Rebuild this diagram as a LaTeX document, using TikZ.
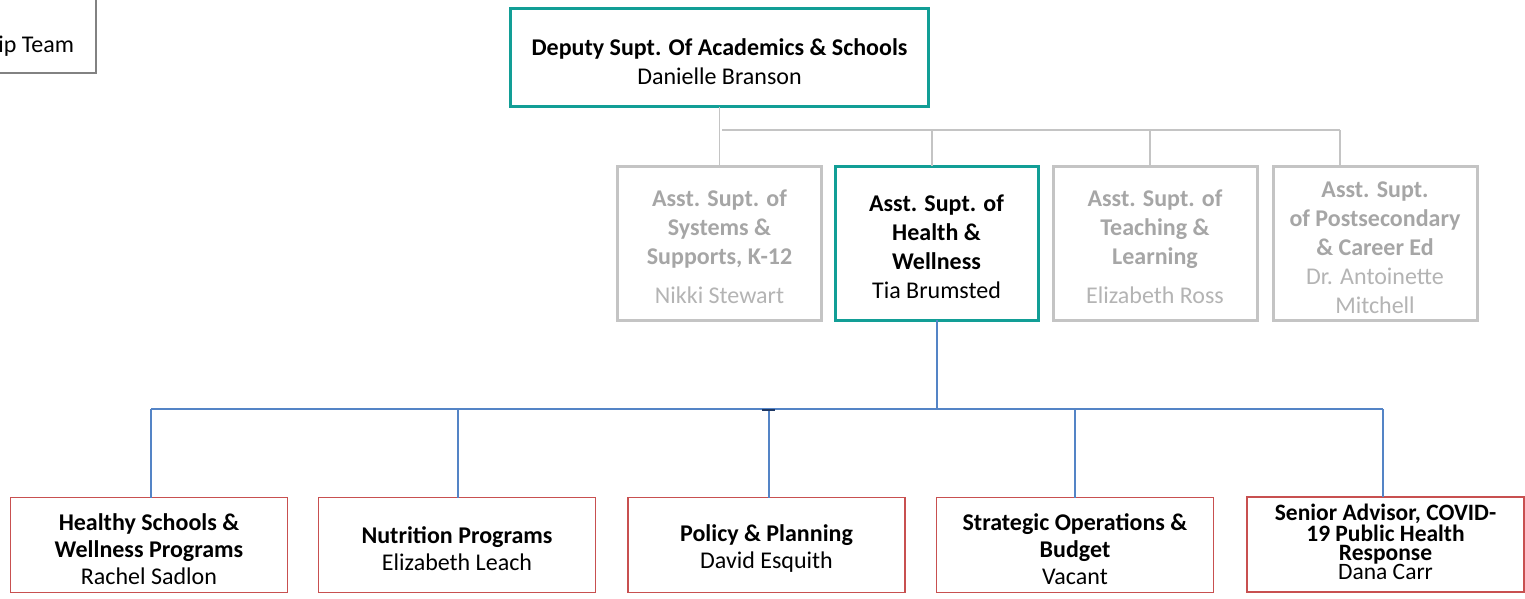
\documentclass[tikz,border=0pt]{standalone}
\usepackage{fontspec}
\setmainfont{Carlito}
\definecolor{tealb}{RGB}{18,158,150}
\definecolor{grayb}{RGB}{196,196,196}
\definecolor{grayt}{RGB}{166,166,166}
\definecolor{grayn}{RGB}{180,180,180}
\definecolor{redb}{RGB}{200,80,80}
\definecolor{blueln}{RGB}{84,132,198}
\definecolor{navy}{RGB}{31,56,100}
\definecolor{darkg}{RGB}{130,130,130}
\newcommand\tstr{\rule{0pt}{24.5pt}}
\newcommand\bstr{\rule[-6pt]{0pt}{6pt}}
\begin{document}
\begin{tikzpicture}[x=1pt,y=-1pt,
  every node/.style={inner sep=0pt, outer sep=0pt, align=center, font=\fontsize{24}{29}\selectfont},
  topbox/.style={draw=tealb, line width=3pt, minimum width=418pt, minimum height=98pt},
  tealbox/.style={draw=tealb, line width=3pt, minimum width=203pt, minimum height=154pt},
  graybox/.style={draw=grayb, line width=3pt, minimum width=204pt, minimum height=154pt, text=grayt},
  redbox/.style={draw=redb, line width=1.3pt, minimum width=277pt, minimum height=95pt, font=\fontsize{24}{27}\selectfont},
  tightbox/.style={redbox, font=\fontsize{23.5}{19}\selectfont},
  grayline/.style={draw=grayb, line width=1.2pt},
  blueline/.style={draw=blueln, line width=1.1pt}
]
\useasboundingbox (0,0) rectangle (1525,598);
\clip (0,0) rectangle (1525,598);
\fill[white] (0,0) rectangle (1525,598);

% top-left partial box
\node[draw=darkg, line width=1.5pt, minimum width=260pt, minimum height=100pt] (lead) at (-34,23) {};
\node[anchor=base east] (leadt) at (74,52) {Leadership Team};

% deputy
\node[topbox] (dep) at (719.5,57.5) {\tstr\textbf{Deputy Supt. Of Academics \& Schools}\\Danielle Branson};

% second row
\node[graybox] (sys) at (719.5,243) {\tstr\textbf{Asst. Supt. of}\\\textbf{Systems \&}\\\textbf{Supports, K-12}\\[10pt]{\color{grayn}Nikki Stewart}};
\node[tealbox] (hw) at (936.5,243) {\tstr\textbf{Asst. Supt. of}\\\textbf{Health \&}\\\textbf{Wellness}\\Tia Brumsted};
\node[graybox] (tl) at (1155,243) {\tstr\textbf{Asst. Supt. of}\\\textbf{Teaching \&}\\\textbf{Learning}\\[10pt]{\color{grayn}Elizabeth Ross}};
\node[graybox] (pce) at (1375,243) {\tstr\textbf{Asst. Supt.}\\\textbf{of Postsecondary}\\\textbf{\& Career Ed}\\{\color{grayn}Dr. Antoinette}\\{\color{grayn}Mitchell}};

% gray connectors
\coordinate (gl) at (722,130);
\coordinate (gr) at (1340,130);
\draw[grayline] (dep.south -| sys.north) -- (sys.north);
\draw[grayline] (gl) -- (gr);
\draw[grayline] (gl -| 932,0) -- (hw.north -| 932,0);
\draw[grayline] (gl -| 1150,0) -- (tl.north -| 1150,0);
\draw[grayline] (gr) -- (pce.north -| gr);

% bottom row
\node[redbox] (hs) at (149,545) {\tstr\textbf{Healthy Schools \&}\\\textbf{Wellness Programs}\\Rachel Sadlon};
\node[redbox] (np) at (457,545) {\tstr\textbf{Nutrition Programs}\\Elizabeth Leach};
\node[redbox] (pp) at (766.5,545) {\tstr\textbf{Policy \& Planning}\\David Esquith};
\node[redbox] (so) at (1075,545) {\tstr\textbf{Strategic Operations \&}\\\textbf{Budget}\\Vacant};
\node[tightbox] (sa) at (1385.5,544.5) {\textbf{Senior Advisor, COVID-}\\\textbf{19 Public Health}\\\textbf{Response}\\Dana Carr\bstr};

% blue connectors
\coordinate (bj) at (937,409);
\coordinate (bl) at (151,409);
\coordinate (br) at (1383,409);
\draw[blueline] (hw.south -| bj) -- (bj);
\draw[blueline] (bl) -- (br);
\draw[blueline] (bl) -- (hs.north -| bl);
\draw[blueline] (bl -| 458,0) -- (np.north -| 458,0);
\draw[blueline] (bl -| 769,0) -- (pp.north -| 769,0);
\draw[blueline] (bl -| so.north) -- (so.north);
\draw[blueline] (br) -- (sa.north -| br);
\draw[navy, line width=1.5pt] (762,410) -- (775,410);
\end{tikzpicture}
\end{document}
